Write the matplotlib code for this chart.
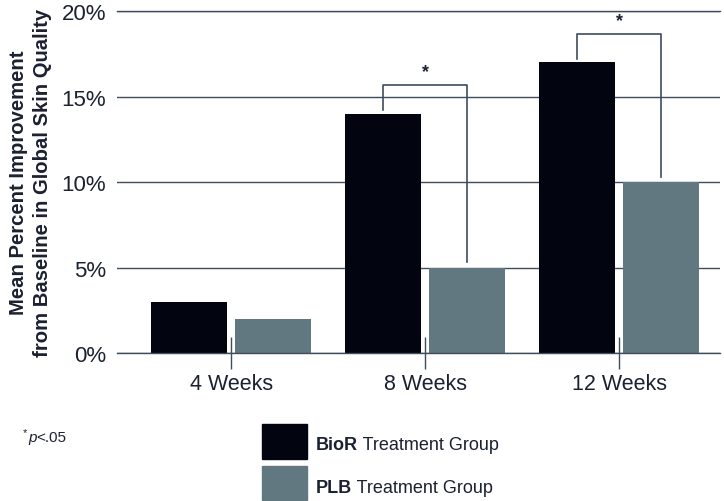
import matplotlib
matplotlib.use("Agg")
import matplotlib.pyplot as plt
from matplotlib.patches import Rectangle
import numpy as np

plt.rcParams['font.family'] = ['Liberation Sans', 'DejaVu Sans']

# data
groups = ['4 Weeks', '8 Weeks', '12 Weeks']
bior = [3, 14, 17]
plb = [2, 5, 10]
sig_groups = [1, 2]          # groups with *p<.05
y_ticks = [0, 5, 10, 15, 20]
y_labels = ['0%', '5%', '10%', '15%', '20%']

black = '#02050f'
grey = '#627880'
grid_col = '#3e4c5c'
text_col = '#1b2131'

fig = plt.figure(figsize=(7.24, 5.02), dpi=100)
ax = fig.add_axes([0.1616, 0.2948, 0.8329, 0.6812])

x = np.arange(len(groups))
w = 0.39
off = 0.2175
ax.bar(x - off, bior, w, color=black, zorder=3)
ax.bar(x + off, plb, w, color=grey, zorder=3)

ax.set_xlim(-0.588, 2.52)
ax.set_ylim(0, 20)
ax.set_yticks(y_ticks)
ax.set_yticklabels(y_labels, fontsize=16, color=text_col)
ax.set_xticks(x)
ax.set_xticklabels(groups, fontsize=15.5, color=text_col)
ax.tick_params(axis='y', length=0, pad=8)
ax.tick_params(axis='x', direction='inout', length=23, width=1, color=grid_col, pad=3)
ax.yaxis.grid(True, color=grid_col, linewidth=1)
ax.set_axisbelow(True)
for s in ax.spines.values():
    s.set_visible(False)
# edge gridlines would be clipped in half
for yv in (y_ticks[0], y_ticks[-1]):
    ax.axhline(yv, color=grid_col, linewidth=1, clip_on=False, zorder=4)

ax.set_ylabel('Mean Percent Improvement\nfrom Baseline in Global Skin Quality',
              fontsize=14.6, fontweight='bold', color=text_col, linespacing=1.3)
ax.yaxis.set_label_coords(-0.108, 0.5)

# significance brackets
for g in sig_groups:
    top = max(bior[g], plb[g]) + 1.65
    xl, xr = g - off, g + off
    ax.plot([xl, xl, xr, xr], [bior[g] + 0.2, top, top, plb[g] + 0.3],
            color=grid_col, linewidth=1.2, zorder=4)
    ax.text(g, top + 0.3, '*', ha='center', va='bottom', fontsize=13,
            fontweight='bold', color=text_col)


def run_text(x0, y0, pieces):
    # write text pieces one after another on the figure
    r = fig.canvas.get_renderer()
    for s, kw in pieces:
        t = fig.text(x0, y0, s, va='baseline', color=text_col, **kw)
        bb = t.get_window_extent(renderer=r)
        x0 += bb.width / fig.bbox.width


# legend
fig.add_artist(Rectangle((262 / 724, 1 - 460 / 502), 45 / 724, 35 / 502,
                         transform=fig.transFigure, color=black))
fig.add_artist(Rectangle((262 / 724, 1 - 501 / 502), 45 / 724, 34 / 502,
                         transform=fig.transFigure, color=grey))
run_text(316 / 724, 1 - 450 / 502, [('BioR', dict(fontsize=13, fontweight='bold')),
                                    (' Treatment Group', dict(fontsize=13))])
run_text(316 / 724, 1 - 493 / 502, [('PLB', dict(fontsize=13, fontweight='bold')),
                                    (' Treatment Group', dict(fontsize=13))])

# footnote
fig.text(23 / 724, 1 - 436 / 502, '*', fontsize=8, va='baseline', color=text_col)
run_text(28 / 724, 1 - 442 / 502, [('p', dict(fontsize=11, style='italic')),
                                   ('<.05', dict(fontsize=11))])

fig.savefig('out.png', dpi=100)
